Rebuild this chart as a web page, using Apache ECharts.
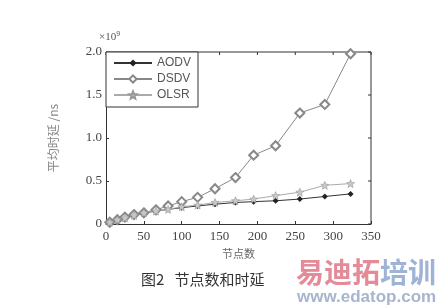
<!DOCTYPE html>
<html><head><meta charset="utf-8">
<script src="https://cdn.jsdelivr.net/npm/echarts@6/dist/echarts.min.js"></script>
<style>html,body{margin:0;padding:0;background:#fff}#c{width:446px;height:307px}</style>
</head><body><div id="c"></div>
<script>
const nodes = [5, 15, 25, 37, 50, 66, 82, 100, 121, 144, 171, 195, 224, 256, 289, 323];
const aodv = [0.02, 0.05, 0.07, 0.10, 0.13, 0.15, 0.17, 0.19, 0.21, 0.23, 0.25, 0.26, 0.27, 0.29, 0.32, 0.35];
const dsdv = [0.02, 0.05, 0.08, 0.11, 0.13, 0.165, 0.21, 0.26, 0.31, 0.41, 0.54, 0.80, 0.91, 1.29, 1.39, 1.98];
const olsr = [0.02, 0.05, 0.07, 0.10, 0.13, 0.15, 0.17, 0.20, 0.22, 0.25, 0.27, 0.29, 0.33, 0.37, 0.45, 0.47];
const seriesNames = ['AODV', 'DSDV', 'OLSR'];
const xTicks = [0, 50, 100, 150, 200, 250, 300, 350];
const yTicks = ['0', '0.5', '1.0', '1.5', '2.0'];

const pair = (ys) => nodes.map((x, i) => [x, ys[i]]);
const star = 'path://M0,-10 L2.6,-3.6 L9.5,-3.1 L4.2,1.4 L5.9,8.1 L0,4.4 L-5.9,8.1 L-4.2,1.4 L-9.5,-3.1 L-2.6,-3.6 Z';
const serif = '"Liberation Serif", "DejaVu Serif", serif';
const cjk = '"Noto Sans CJK SC", sans-serif';

const chart = echarts.init(document.getElementById('c'));
const axisLine = () => ({ show: true, onZero: false, lineStyle: { color: '#333', width: 1 } });
const tick = () => ({ show: true, inside: true, length: 3, lineStyle: { color: '#333' } });
const baseGraphics = [
  { type: 'text', left: 99, top: 31, style: { text: '×10{s|9}', fill: '#555', font: '11px ' + serif,
    rich: { s: { fontSize: 7, verticalAlign: 'top', padding: [0, 0, 6, 0], fill: '#555' } } } },
  { type: 'text', left: 141, top: 272, style: { text: '图2   节点数和时延', fill: '#333', font: '15px ' + cjk } },
  { type: 'text', left: 296, top: 258, style: { text: '易迪拓', fill: '#e58a98', font: 'bold 28px ' + cjk } },
  { type: 'text', left: 380, top: 258, style: { text: '培训', fill: '#9fb3d6', font: 'bold 28px ' + cjk } },
  { type: 'text', left: 297, top: 289, style: { text: 'www.edatop.com', fill: '#a7b5cf', font: 'bold 17px "Liberation Sans", Arial, sans-serif' } }
];
chart.setOption({
  animation: false,
  grid: { left: 106, right: 75, top: 52, bottom: 83 },
  xAxis: {
    type: 'value', min: 0, max: 350, interval: 50,
    axisLine: axisLine(), axisTick: tick(), splitLine: { show: false },
    axisLabel: { color: '#444', fontFamily: serif, fontSize: 13, margin: 6,
      formatter: v => xTicks.includes(v) ? String(v) : '' },
    name: '节点数', nameLocation: 'middle', nameGap: 21,
    nameTextStyle: { color: '#666', fontFamily: cjk, fontSize: 11 }
  },
  yAxis: {
    type: 'value', min: 0, max: 2, interval: 0.5,
    axisLine: axisLine(), axisTick: tick(), splitLine: { show: false },
    axisLabel: { color: '#444', fontFamily: serif, fontSize: 13, margin: 4,
      formatter: v => yTicks[Math.round(v / 0.5)] },
    name: '平均时延 /ns', nameLocation: 'middle', nameGap: 47, nameRotate: 90,
    nameTextStyle: { color: '#888', fontFamily: cjk, fontSize: 12 }
  },
  legend: {
    orient: 'vertical', left: 106, top: 52, itemGap: 4, itemWidth: 38, itemHeight: 9,
    padding: [5, 7, 6, 7], borderColor: '#333', borderWidth: 1, backgroundColor: '#fff',
    textStyle: { color: '#555', fontFamily: '"Liberation Sans", Arial, sans-serif', fontSize: 12 },
    data: seriesNames
  },
  series: [
    { name: seriesNames[0], type: 'line', data: pair(aodv), symbol: 'diamond', symbolSize: 6,
      lineStyle: { color: '#333', width: 1 }, itemStyle: { color: '#222' } },
    { name: seriesNames[1], type: 'line', data: pair(dsdv), symbol: 'emptyDiamond', symbolSize: 9,
      lineStyle: { color: '#888', width: 1 }, itemStyle: { color: '#888', borderColor: '#888', borderWidth: 1 } },
    { name: seriesNames[2], type: 'line', data: pair(olsr), symbol: star, symbolSize: 8,
      lineStyle: { color: '#aaa', width: 1 }, itemStyle: { color: '#c8c8c8', borderColor: '#999', borderWidth: 0.6 } }
  ],
  graphic: baseGraphics
});

// Top and right frame lines with inward ticks, positioned through the chart's own scales
const px = (x, y) => chart.convertToPixel({ gridIndex: 0 }, [x, y]);
const [x0, yTop] = px(0, 2);
const [x1, yBot] = px(350, 0);
const frame = [
  { type: 'line', shape: { x1: x0, y1: yTop, x2: x1, y2: yTop }, style: { stroke: '#333', lineWidth: 1 } },
  { type: 'line', shape: { x1: x1, y1: yTop, x2: x1, y2: yBot }, style: { stroke: '#333', lineWidth: 1 } }
];
xTicks.forEach(t => { const [x] = px(t, 2); frame.push({ type: 'line', shape: { x1: x, y1: yTop, x2: x, y2: yTop + 3 }, style: { stroke: '#333', lineWidth: 1 } }); });
yTicks.forEach((_, i) => { const [, y] = px(350, i * 0.5); frame.push({ type: 'line', shape: { x1: x1, y1: y, x2: x1 - 3, y2: y }, style: { stroke: '#333', lineWidth: 1 } }); });
chart.setOption({ graphic: baseGraphics.concat(frame) }, { replaceMerge: ['graphic'] });
</script></body></html>
